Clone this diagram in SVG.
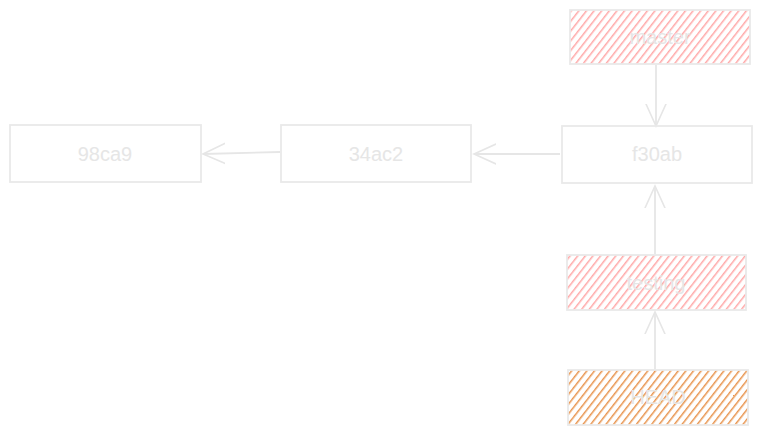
<svg xmlns="http://www.w3.org/2000/svg" width="762" height="434" viewBox="0 0 762 434">
<defs>
<pattern id="hPink" patternUnits="userSpaceOnUse" width="6" height="6" patternTransform="rotate(38)">
<rect width="6" height="6" fill="#ffffff"/>
<line x1="0" y1="0" x2="0" y2="6" stroke="#ffa8a8" stroke-width="3"/>
</pattern>
<pattern id="hOrange" patternUnits="userSpaceOnUse" width="6" height="6" patternTransform="rotate(38)">
<rect width="6" height="6" fill="#ffffff"/>
<line x1="0" y1="0" x2="0" y2="6" stroke="#e8944e" stroke-width="3"/>
</pattern>
<marker id="arr" viewBox="0 0 24 24" refX="22" refY="12" markerWidth="24" markerHeight="24" markerUnits="userSpaceOnUse" orient="auto">
<path d="M0,2 L22,12 L0,22" fill="none" stroke="#e6e6e6" stroke-width="1.6" stroke-linecap="round"/>
</marker>
</defs>
<style>
.box{stroke:#e9e9e9;stroke-width:1.8;fill:none}
.lbl{font-family:"Liberation Sans",Arial,sans-serif;font-size:20px;fill:#e6e6e6;text-anchor:middle;dominant-baseline:central}
.edge{stroke:#e6e6e6;stroke-width:1.8;fill:none;marker-end:url(#arr)}
</style>
<rect width="762" height="434" fill="#ffffff"/>
<g id="connectors">
<line class="edge" x1="656" y1="65" x2="656" y2="126"/>
<line class="edge" x1="560" y1="154" x2="474" y2="154"/>
<line class="edge" x1="280" y1="152" x2="203" y2="154"/>
<line class="edge" x1="655" y1="254" x2="655" y2="186"/>
<line class="edge" x1="655" y1="369" x2="655" y2="312"/>
</g>
<g id="master">
<rect x="570" y="10" width="180" height="54" class="box" style="fill:url(#hPink)"/>
<text class="lbl" x="660" y="37">master</text>
</g>
<g id="f30ab">
<rect class="box" x="562" y="126" width="190" height="57"/>
<text class="lbl" x="657" y="154">f30ab</text>
</g>
<g id="34ac2">
<rect class="box" x="281" y="125" width="190" height="57"/>
<text class="lbl" x="376" y="154">34ac2</text>
</g>
<g id="98ca9">
<rect class="box" x="10" y="125" width="191" height="57"/>
<text class="lbl" x="105" y="154">98ca9</text>
</g>
<g id="testing">
<rect class="box" x="567" y="255" width="179" height="55" style="fill:url(#hPink)"/>
<text class="lbl" x="656" y="283">testing</text>
</g>
<g id="HEAD">
<rect class="box" x="568" y="370" width="180" height="55" style="fill:url(#hOrange)"/>
<text class="lbl" x="658" y="397">HEAD</text>
</g>
</svg>
